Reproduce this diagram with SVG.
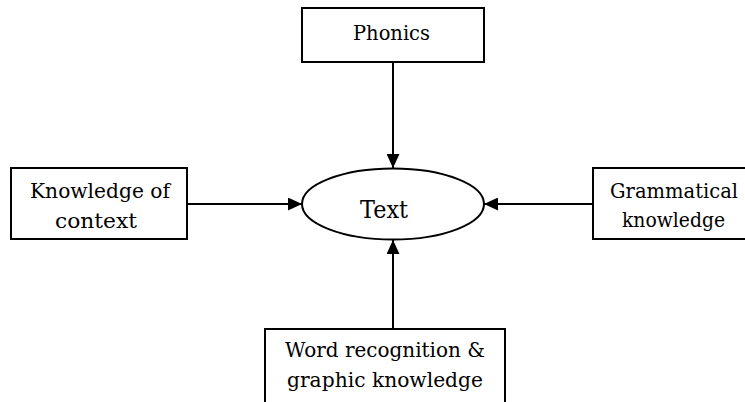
<svg xmlns="http://www.w3.org/2000/svg" width="745" height="402" viewBox="0 0 745 402">
<defs>
<style>
.box{fill:#fff;stroke:#000;stroke-width:2}
.lbl{font-family:"DejaVu Serif",serif;font-size:21px;fill:#000;text-anchor:middle}
.big{font-size:25px}
.con{stroke:#000;stroke-width:2;fill:none}
</style>
<marker id="ah" markerWidth="14" markerHeight="13" refX="14" refY="6.5" orient="auto" markerUnits="userSpaceOnUse">
<path d="M0,0 L14,6.5 L0,13 Z" fill="#000"/>
</marker>
</defs>
<rect width="745" height="402" fill="#fff"/>
<g id="connectors">
<line class="con" x1="393" y1="62" x2="393" y2="168" marker-end="url(#ah)"/>
<line class="con" x1="187" y1="204" x2="302" y2="204" marker-end="url(#ah)"/>
<line class="con" x1="593" y1="204" x2="484" y2="204" marker-end="url(#ah)"/>
<line class="con" x1="393" y1="329" x2="393" y2="240" marker-end="url(#ah)"/>
</g>
<g id="phonics">
<rect class="box" x="302" y="8" width="182" height="54"/>
<text class="lbl" x="391.5" y="40" textLength="77" lengthAdjust="spacingAndGlyphs">Phonics</text>
</g>
<g id="context">
<rect class="box" x="11" y="168" width="176" height="71"/>
<text class="lbl" x="100" y="198" textLength="140" lengthAdjust="spacingAndGlyphs">Knowledge of</text>
<text class="lbl" x="96" y="228" textLength="82" lengthAdjust="spacingAndGlyphs">context</text>
</g>
<g id="grammatical">
<rect class="box" x="593" y="168" width="162" height="71"/>
<text class="lbl" x="674" y="198" textLength="128" lengthAdjust="spacingAndGlyphs">Grammatical</text>
<text class="lbl" x="673.5" y="227" textLength="103" lengthAdjust="spacingAndGlyphs">knowledge</text>
</g>
<g id="word">
<rect class="box" x="265" y="329" width="240" height="90"/>
<text class="lbl" x="385" y="357" textLength="200" lengthAdjust="spacingAndGlyphs">Word recognition &amp;</text>
<text class="lbl" x="385" y="387" textLength="196" lengthAdjust="spacingAndGlyphs">graphic knowledge</text>
</g>
<g id="text">
<ellipse class="box" cx="393" cy="204" rx="91" ry="35.5"/>
<text class="lbl big" x="384" y="218" textLength="48" lengthAdjust="spacingAndGlyphs">Text</text>
</g>
</svg>
